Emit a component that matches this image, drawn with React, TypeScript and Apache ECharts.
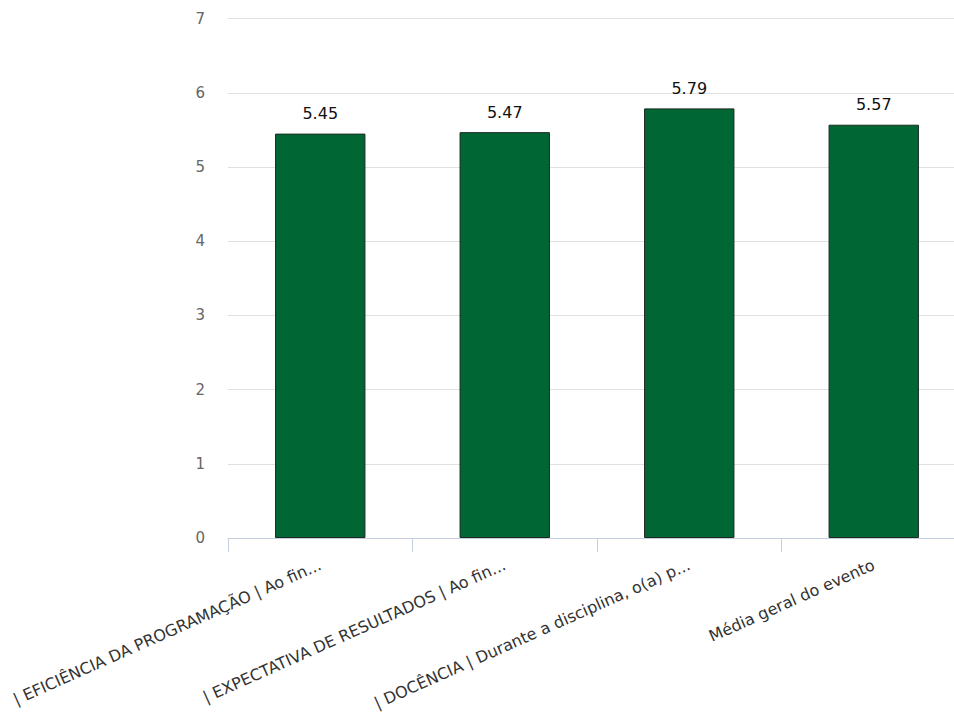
import React, { useEffect, useRef } from "react";
import * as echarts from "echarts";

const categories = [
  "| EFICIÊNCIA DA PROGRAMAÇÃO | Ao fin...",
  "| EXPECTATIVA DE RESULTADOS | Ao fin...",
  "| DOCÊNCIA | Durante a disciplina, o(a) p...",
  "Média geral do evento",
];
const values = [5.45, 5.47, 5.79, 5.57];
const yTicks = { min: 0, max: 7, interval: 1 };

export default function App() {
  const ref = useRef<HTMLDivElement>(null);
  useEffect(() => {
    if (!ref.current) return;
    const chart = echarts.init(ref.current, null, { renderer: "svg" });
    const font = "'DejaVu Sans', Verdana, sans-serif";
    chart.setOption({
      animation: false,
      backgroundColor: "#ffffff",
      grid: { left: 228, top: 18.6, bottom: 177, right: 0, containLabel: false },
      xAxis: {
        type: "category",
        data: categories,
        axisLine: { show: true, lineStyle: { color: "#c4d0e0", width: 1 } },
        axisTick: { show: true, length: 14, lineStyle: { color: "#c4d0e0" } },
        axisLabel: {
          rotate: 24,
          interval: 0,
          margin: 26,
          color: "#333333",
          fontSize: 16,
          fontFamily: font,
        },
        splitLine: { show: false },
      },
      yAxis: {
        type: "value",
        min: yTicks.min,
        max: yTicks.max,
        interval: yTicks.interval,
        axisLine: { show: false },
        axisTick: { show: false },
        axisLabel: { color: "#666666", fontSize: 15, margin: 23, fontFamily: font },
        splitLine: { lineStyle: { color: "#e0e0e0", width: 1 } },
      },
      series: [
        {
          type: "bar",
          data: values,
          barWidth: "49%",
          itemStyle: { color: "#006633", borderColor: "#1c2b20", borderWidth: 1 },
          label: {
            show: true,
            position: "top",
            distance: 12,
            color: "#111111",
            fontSize: 16,
            fontFamily: font,
            formatter: (p: any) => p.value.toFixed(2),
          },
        },
      ],
    });
    return () => chart.dispose();
  }, []);
  return (
    <div
      style={{
        position: "fixed",
        left: 0,
        top: 0,
        width: 954,
        height: 715,
        overflow: "hidden",
        background: "#ffffff",
      }}
    >
      <div ref={ref} style={{ width: 966, height: 715 }} />
    </div>
  );
}
